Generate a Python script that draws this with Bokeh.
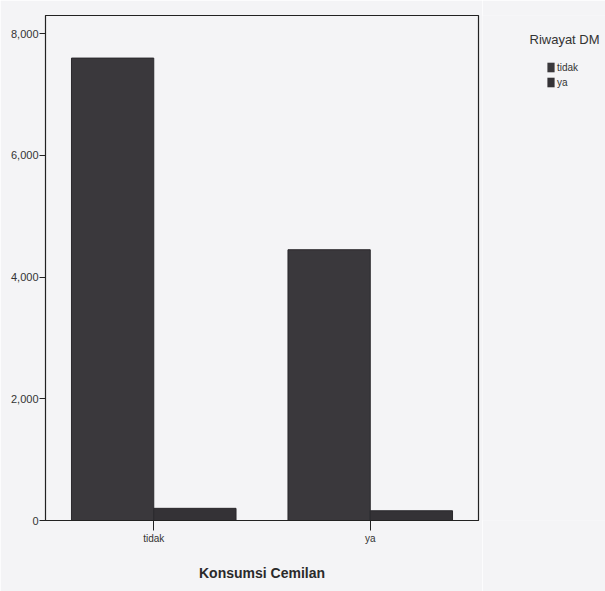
from bokeh.plotting import figure
from bokeh.layouts import row
from bokeh.models import (ColumnDataSource, FactorRange, Range1d, Legend, LegendItem,
                          NumeralTickFormatter, FixedTicker, Label)
from bokeh.transform import dodge
from bokeh.embed import file_html
from bokeh.resources import INLINE

categories = ["tidak", "ya"]
riwayat_levels = ["tidak", "ya"]
riwayat_tidak = [7600, 4450]
riwayat_ya = [200, 160]
y_ticks = [0, 2000, 4000, 6000, 8000]
bar_colors = ["#3a383c", "#343236"]

src = ColumnDataSource(dict(cat=categories, tidak=riwayat_tidak, ya=riwayat_ya))

BG = "#f4f4f6"
FONT = "Liberation Sans"

p = figure(width=482, height=591, x_range=FactorRange(*categories, range_padding=0),
           y_range=Range1d(0, 8300), output_backend="svg", toolbar_location=None,
           min_border_left=45, min_border_right=4, min_border_top=15, min_border_bottom=71,
           background_fill_color=BG, border_fill_color=BG)
p.grid.visible = False
p.outline_line_color = "#222222"
p.outline_line_width = 1.2

bw = 0.38
r1 = p.vbar(x=dodge("cat", -bw / 2, range=p.x_range), top="tidak", width=bw, bottom=0,
            source=src, fill_color=bar_colors[0], line_color="#2a282c")
r2 = p.vbar(x=dodge("cat", bw / 2, range=p.x_range), top="ya", width=bw, bottom=0,
            source=src, fill_color=bar_colors[1], line_color="#2a282c")

ya = p.yaxis[0]
ya.ticker = FixedTicker(ticks=y_ticks)
ya.formatter = NumeralTickFormatter(format="0,0")
ya.minor_tick_line_color = None
ya.major_tick_out = 6
ya.major_tick_in = 0
ya.axis_line_color = "#222222"
ya.major_tick_line_color = "#222222"
ya.major_label_text_font = FONT
ya.major_label_text_font_size = "11px"
ya.major_label_text_color = "#333333"
ya.major_label_standoff = 1

xa = p.xaxis[0]
xa.axis_label = "Konsumsi Cemilan"
xa.axis_label_text_font = FONT
xa.axis_label_text_font_size = "14px"
xa.axis_label_text_font_style = "bold"
xa.axis_label_text_color = "#2a2a2a"
xa.axis_label_standoff = 18
xa.major_tick_out = 10
xa.major_tick_in = 0
xa.axis_line_color = "#222222"
xa.major_tick_line_color = "#222222"
xa.major_label_text_font = FONT
xa.major_label_text_font_size = "10px"
xa.major_label_text_color = "#333333"
xa.major_label_standoff = 2

# legend panel (separate canvas so nothing is clipped by the plot frame);
# in a row its frame is aligned with the main frame (top 15, bottom 520)
p2 = figure(width=123, height=591, x_range=Range1d(0, 1), y_range=Range1d(0, 1),
            output_backend="svg", toolbar_location=None, x_axis_type=None, y_axis_type=None,
            min_border=0, background_fill_color=BG, border_fill_color=BG)
p2.grid.visible = False
p2.outline_line_color = None
lsrc = ColumnDataSource(dict(x=[0.5], top=[float("nan")]))
g1 = p2.vbar(x="x", top="top", width=0.1, source=lsrc, fill_color=bar_colors[0], line_color=None)
g2 = p2.vbar(x="x", top="top", width=0.1, source=lsrc, fill_color=bar_colors[1], line_color=None)

legend = Legend(items=[LegendItem(label=riwayat_levels[0], renderers=[g1]),
                       LegendItem(label=riwayat_levels[1], renderers=[g2])],
                location=(64, 432), orientation="vertical",
                background_fill_alpha=0, border_line_color=None,
                glyph_width=9, glyph_height=12, label_standoff=2, spacing=3,
                padding=0, margin=0,
                label_text_font=FONT, label_text_font_size="10px",
                label_height=12, label_text_color="#333333")
p2.add_layout(legend, "center")

title_lbl = Label(x=47, y=474, x_units="screen", y_units="screen", text="Riwayat DM",
                  text_font=FONT, text_font_size="13px", text_color="#333333")
p2.add_layout(title_lbl)

layout = row(p, p2, spacing=0)
open("out.html", "w").write(file_html(layout, INLINE))
